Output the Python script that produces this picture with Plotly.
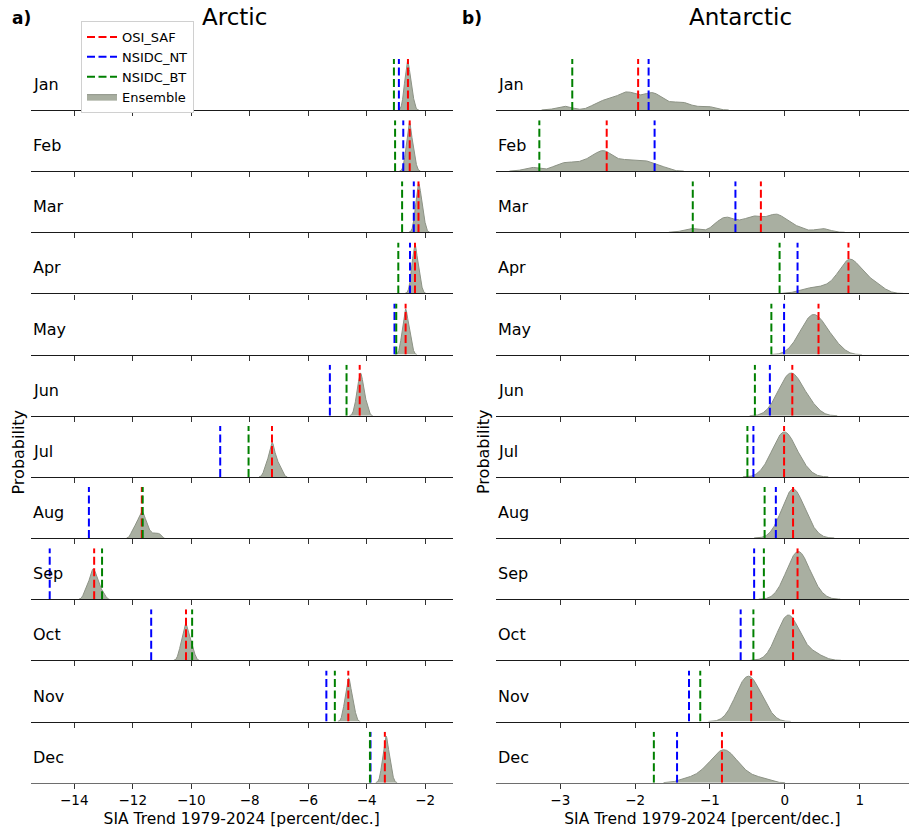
import numpy as np
import plotly.graph_objects as go

# ---------------- data ----------------
months = ["Jan", "Feb", "Mar", "Apr", "May", "Jun", "Jul", "Aug", "Sep", "Oct", "Nov", "Dec"]

# Observational trends (percent/dec.)
arctic_osi_saf = [-2.59, -2.53, -2.23, -2.35, -2.67, -4.24, -7.24, -11.69, -13.32, -10.18, -4.63, -3.38]
arctic_nsidc_nt = [-2.90, -2.75, -2.39, -2.52, -3.05, -5.26, -9.01, -13.50, -14.84, -11.37, -5.38, -3.87]
arctic_nsidc_bt = [-3.07, -3.03, -2.79, -2.92, -2.99, -4.69, -8.04, -11.66, -13.05, -9.97, -5.09, -3.89]

antarctic_osi_saf = [-1.96, -2.38, -0.32, 0.85, 0.45, 0.10, -0.01, 0.11, 0.17, 0.11, -0.45, -0.84]
antarctic_nsidc_nt = [-1.82, -1.74, -0.66, 0.17, -0.01, -0.20, -0.42, -0.12, -0.41, -0.59, -1.28, -1.44]
antarctic_nsidc_bt = [-2.84, -3.28, -1.23, -0.07, -0.18, -0.40, -0.50, -0.27, -0.28, -0.42, -1.13, -1.75]

# Ensemble member trends (20 members per month)
arctic_ensemble = [
    [-2.75, -2.71, -2.69, -2.67, -2.65, -2.64, -2.63, -2.62, -2.61, -2.60, -2.59, -2.58, -2.57, -2.56, -2.54, -2.52, -2.50, -2.47, -2.44, -2.40],
    [-2.70, -2.66, -2.63, -2.61, -2.59, -2.58, -2.57, -2.56, -2.55, -2.54, -2.53, -2.52, -2.51, -2.50, -2.48, -2.46, -2.44, -2.41, -2.38, -2.34],
    [-2.38, -2.34, -2.31, -2.29, -2.27, -2.26, -2.25, -2.24, -2.23, -2.22, -2.21, -2.20, -2.19, -2.18, -2.16, -2.14, -2.12, -2.09, -2.06, -2.02],
    [-2.51, -2.47, -2.44, -2.42, -2.40, -2.39, -2.38, -2.37, -2.36, -2.35, -2.34, -2.33, -2.32, -2.31, -2.29, -2.27, -2.25, -2.22, -2.19, -2.15],
    [-2.84, -2.80, -2.77, -2.75, -2.73, -2.71, -2.70, -2.69, -2.68, -2.67, -2.66, -2.65, -2.64, -2.62, -2.60, -2.58, -2.56, -2.53, -2.50, -2.46],
    [-4.41, -4.36, -4.33, -4.30, -4.28, -4.26, -4.25, -4.23, -4.22, -4.21, -4.20, -4.19, -4.17, -4.16, -4.14, -4.12, -4.09, -4.06, -4.02, -3.97],
    [-7.50, -7.43, -7.39, -7.35, -7.32, -7.30, -7.28, -7.26, -7.25, -7.23, -7.22, -7.20, -7.18, -7.16, -7.13, -7.10, -7.06, -7.02, -6.97, -6.90],
    [-12.03, -11.96, -11.91, -11.86, -11.82, -11.79, -11.76, -11.73, -11.71, -11.69, -11.67, -11.64, -11.62, -11.59, -11.56, -11.52, -11.46, -11.37, -11.24, -11.10],
    [-13.66, -13.58, -13.53, -13.49, -13.46, -13.43, -13.41, -13.39, -13.37, -13.35, -13.33, -13.31, -13.29, -13.27, -13.24, -13.21, -13.17, -13.12, -13.06, -12.98],
    [-10.42, -10.36, -10.33, -10.30, -10.27, -10.25, -10.23, -10.22, -10.20, -10.19, -10.18, -10.16, -10.14, -10.12, -10.10, -10.07, -10.04, -10.00, -9.96, -9.90],
    [-4.81, -4.76, -4.73, -4.71, -4.69, -4.67, -4.66, -4.64, -4.63, -4.62, -4.61, -4.60, -4.59, -4.57, -4.55, -4.53, -4.51, -4.48, -4.44, -4.40],
    [-3.51, -3.47, -3.44, -3.42, -3.40, -3.39, -3.38, -3.36, -3.35, -3.34, -3.33, -3.32, -3.31, -3.30, -3.28, -3.26, -3.24, -3.21, -3.18, -3.14],
]

antarctic_ensemble = [
    [-2.95, -2.52, -2.42, -2.34, -2.25, -2.18, -2.13, -2.10, -2.06, -2.00, -1.92, -1.84, -1.79, -1.76, -1.72, -1.66, -1.52, -1.40, -1.30, -1.05],
    [-3.38, -3.05, -2.93, -2.85, -2.72, -2.64, -2.57, -2.50, -2.46, -2.43, -2.40, -2.36, -2.30, -2.20, -2.12, -2.05, -1.95, -1.88, -1.80, -1.65],
    [-1.25, -0.92, -0.84, -0.80, -0.75, -0.70, -0.58, -0.52, -0.44, -0.40, -0.36, -0.30, -0.20, -0.15, -0.12, -0.08, -0.04, 0.05, 0.18, 0.50],
    [0.25, 0.42, 0.55, 0.66, 0.72, 0.76, 0.79, 0.82, 0.84, 0.86, 0.88, 0.90, 0.92, 0.95, 0.98, 1.02, 1.07, 1.13, 1.18, 1.28],
    [0.11, 0.19, 0.23, 0.26, 0.29, 0.31, 0.33, 0.35, 0.37, 0.39, 0.41, 0.43, 0.45, 0.47, 0.50, 0.53, 0.56, 0.60, 0.65, 0.73],
    [-0.17, -0.10, -0.06, -0.03, -0.01, 0.01, 0.03, 0.05, 0.07, 0.09, 0.10, 0.12, 0.14, 0.16, 0.18, 0.21, 0.24, 0.28, 0.33, 0.40],
    [-0.26, -0.19, -0.15, -0.12, -0.10, -0.08, -0.06, -0.04, -0.02, -0.01, 0.00, 0.02, 0.04, 0.06, 0.08, 0.10, 0.13, 0.16, 0.21, 0.28],
    [-0.11, -0.05, -0.02, 0.01, 0.03, 0.05, 0.07, 0.08, 0.10, 0.11, 0.12, 0.13, 0.15, 0.16, 0.18, 0.20, 0.23, 0.26, 0.30, 0.36],
    [-0.05, 0.01, 0.04, 0.07, 0.09, 0.11, 0.13, 0.15, 0.16, 0.18, 0.19, 0.20, 0.22, 0.23, 0.25, 0.27, 0.30, 0.33, 0.37, 0.44],
    [-0.16, -0.11, -0.07, -0.05, -0.03, -0.01, 0.01, 0.03, 0.04, 0.06, 0.07, 0.08, 0.10, 0.12, 0.14, 0.17, 0.21, 0.26, 0.33, 0.45],
    [-0.72, -0.66, -0.63, -0.60, -0.58, -0.56, -0.54, -0.52, -0.50, -0.49, -0.48, -0.46, -0.44, -0.42, -0.40, -0.38, -0.35, -0.32, -0.28, -0.22],
    [-1.32, -1.15, -1.08, -1.02, -0.97, -0.93, -0.90, -0.87, -0.85, -0.83, -0.81, -0.78, -0.75, -0.72, -0.69, -0.66, -0.62, -0.55, -0.46, -0.30],
]

arctic_ticks = [-14, -12, -10, -8, -6, -4, -2]
antarctic_ticks = [-3, -2, -1, 0, 1]

# ---------------- style / layout constants ----------------
W, H = 909, 829
FONT = "DejaVu Sans"
FILL = "rgba(160,166,151,0.9)"
EDGE = "rgb(140,146,133)"
COLORS = {"OSI_SAF": "#ff0000", "NSIDC_NT": "#0000ff", "NSIDC_BT": "#008000"}

panels = [
    dict(name="Arctic", label="a)", ens=arctic_ensemble,
         obs={"OSI_SAF": arctic_osi_saf, "NSIDC_NT": arctic_nsidc_nt, "NSIDC_BT": arctic_nsidc_bt},
         ticks=arctic_ticks, xr=[-15.49, -1.06], dom_px=[30.7, 452.7], bw=0.06),
    dict(name="Antarctic", label="b)", ens=antarctic_ensemble,
         obs={"OSI_SAF": antarctic_osi_saf, "NSIDC_NT": antarctic_nsidc_nt, "NSIDC_BT": antarctic_nsidc_bt},
         ticks=antarctic_ticks, xr=[-3.863, 1.659], dom_px=[495.7, 909.0], bw=0.10),
]

TOP0 = 59.0      # top of first row axes (px)
STEP = 61.15     # row spacing (px)
ROWH = 51.0      # row axes height (px)


def kde(members, grid, bw):
    m = np.asarray(members)[:, None]
    z = (grid[None, :] - m) / bw
    return np.exp(-0.5 * z ** 2).sum(axis=0) / (len(members) * bw * np.sqrt(2 * np.pi))


def fmt(v):
    return ("\u2212" + str(abs(v))) if v < 0 else str(v)


fig = go.Figure()
layout = dict(width=W, height=H, margin=dict(l=0, r=0, t=0, b=0),
              plot_bgcolor="white", paper_bgcolor="white",
              font=dict(family=FONT, color="black"))
annotations = []

for p, P in enumerate(panels):
    dens = []
    for r in range(12):
        mem = P["ens"][r]
        g = np.linspace(min(mem) - 3 * P["bw"], max(mem) + 3 * P["bw"], 400)
        dens.append((g, kde(mem, g, P["bw"])))
    ytop = max(d.max() for _, d in dens) * 1.04

    for r in range(12):
        k = p * 12 + r + 1
        xa = "xaxis" if k == 1 else f"xaxis{k}"
        ya = "yaxis" if k == 1 else f"yaxis{k}"
        xs = "x" if k == 1 else f"x{k}"
        ys = "y" if k == 1 else f"y{k}"
        bottom_px = TOP0 + ROWH + STEP * r
        top_px = TOP0 + STEP * r
        last = r == 11
        layout[xa] = dict(
            domain=[P["dom_px"][0] / W, P["dom_px"][1] / W], range=P["xr"], anchor=ys,
            showline=True, linecolor="#6e6e6e" if last else "#1a1a1a", linewidth=1.2,
            ticks="outside", ticklen=5, tickwidth=1.2, tickcolor="#333",
            tickvals=P["ticks"], ticktext=[fmt(v) for v in P["ticks"]],
            showticklabels=last, tickfont=dict(size=13.5, family=FONT),
            showgrid=False, zeroline=False,
        )
        if last:
            layout[xa]["title"] = dict(text="SIA Trend 1979-2024 [percent/dec.]",
                                       font=dict(size=15.5, family=FONT), standoff=6)
        layout[ya] = dict(domain=[1 - bottom_px / H, 1 - top_px / H], range=[0, ytop],
                          anchor=xs, visible=False, fixedrange=True)

        g, d = dens[r]
        fig.add_trace(go.Scatter(
            x=g, y=d, xaxis=xs, yaxis=ys, mode="lines", fill="tozeroy",
            fillcolor=FILL, line=dict(color=EDGE, width=1),
            name="Ensemble", legendrank=4, showlegend=(k == 1), hoverinfo="skip"))
        for i, (nm, vals) in enumerate(P["obs"].items()):
            v = vals[r]
            fig.add_trace(go.Scatter(
                x=[v, v], y=[0, ytop], xaxis=xs, yaxis=ys, mode="lines",
                line=dict(color=COLORS[nm], width=2, dash="8px,3.5px"),
                name=nm, legendrank=i + 1, showlegend=(k == 1), hoverinfo="skip"))

        annotations.append(dict(text=months[r], x=0, y=0.5, xref=f"{xs} domain", yref=f"{ys} domain",
                                xanchor="left", yanchor="middle", showarrow=False,
                                font=dict(size=16, family=FONT)))

    annotations.append(dict(text=P["name"], x=(234 if p == 0 else 740) / W, y=1 - 17 / H,
                            xref="paper", yref="paper", xanchor="center", yanchor="middle",
                            showarrow=False, font=dict(size=23, family=FONT)))
    annotations.append(dict(text="<b>" + P["label"] + "</b>", x=(10 if p == 0 else 460) / W, y=1 - 18 / H,
                            xref="paper", yref="paper", xanchor="left", yanchor="middle",
                            showarrow=False, font=dict(size=17, family=FONT)))
    annotations.append(dict(text="Probability", x=(17.5 if p == 0 else 483) / W, y=1 - 452 / H,
                            xref="paper", yref="paper", xanchor="center", yanchor="middle",
                            textangle=-90, showarrow=False, font=dict(size=16, family=FONT)))

layout["annotations"] = annotations
layout["legend"] = dict(x=81 / W, y=1 - 21 / H, xanchor="left", yanchor="top",
                        bgcolor="white", bordercolor="#d0d0d0", borderwidth=1,
                        font=dict(size=13, family=FONT), traceorder="normal",
                        tracegroupgap=0, itemwidth=30)
fig.update_layout(**layout)
fig.write_html("out.html", config={"displayModeBar": False},
               post_script="document.body.style.margin='0px';document.body.style.overflow='hidden';")
